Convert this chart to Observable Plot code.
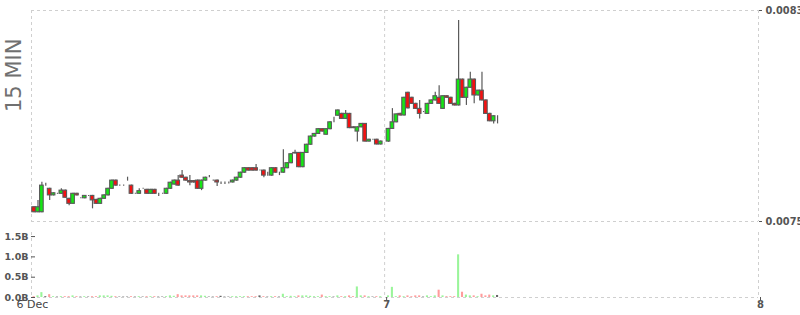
<!DOCTYPE html>
<html><head><meta charset="utf-8">
<script src="https://cdn.jsdelivr.net/npm/d3@7"></script>
<script src="https://cdn.jsdelivr.net/npm/@observablehq/plot@0.6"></script>
<style>
body{margin:0;background:#fff;}
#chart{position:relative;width:800px;height:315px;overflow:hidden;font-family:"DejaVu Sans",sans-serif;}
#chart svg{position:absolute;left:0;background:transparent;overflow:visible;}
</style></head><body><div id="chart"></div>
<script>
// ---- data (15-minute candles) ----
const firstCandle = "2023-12-06T01:30:00Z";
const stepMinutes = 15;
const open = [
.007554,.007535,.007535,.007636,.007624,.007599,.007605,.007605,.007617,.007586,
.007567,.007605,.007588,.007588,.007597,.007597,.007582,.007567,.007586,.007599,
.007624,.007655,.007636,.007636,.007655,.007636,.007605,.007605,.007624,.007620,
.007605,.007620,.007605,.007605,.007605,.007624,.007640,.007655,.007674,.007666,
.007653,.007653,.007655,.007624,.007655,.007668,.007655,.007655,.007648,.007648,
.007648,.007648,.007655,.007666,.007685,.007702,.007702,.007702,.007693,.007693,
.007674,.007674,.007702,.007685,.007685,.007702,.007721,.007758,.007760,.007706,
.007760,.007791,.007822,.007832,.007850,.007829,.007850,.007876,.007901,.007908,
.007889,.007908,.007857,.007841,.007857,.007870,.007803,.007810,.007810,.007792,
null,.007803,.007851,.007876,.007908,.007902,.007988,.007969,.007946,.007927,
.007915,.007908,.007946,.007959,.007969,.007927,.007975,.007969,.007946,.007940,
.008038,.007969,.008007,.008038,.007978,.007996,.007959,.007908,.007880,.007899];
const high = [
.007556,.007580,.007649,.007645,.007626,.007609,.007607,.007624,.007619,.007588,
.007607,.007607,.007590,.007599,.007599,.007599,.007584,.007588,.007601,.007626,
.007657,.007657,.007638,.007638,.007668,.007638,.007607,.007624,.007626,.007622,
.007622,.007622,.007607,.007607,.007626,.007649,.007657,.007674,.007693,.007668,
.007674,.007655,.007657,.007657,.007668,.007674,.007657,.007657,.007650,.007650,
.007650,.007657,.007668,.007687,.007704,.007704,.007704,.007716,.007695,.007695,
.007687,.007704,.007704,.007687,.007772,.007723,.007757,.007770,.007762,.007762,
.007793,.007824,.007834,.007852,.007852,.007852,.007878,.007895,.007923,.007910,
.007921,.007910,.007859,.007859,.007872,.007872,.007812,.007812,.007812,.007805,
null,.007853,.007928,.007908,.007910,.007971,.007990,.007971,.007948,.007959,
.007917,.007948,.007961,.007990,.008015,.007977,.007977,.007971,.007948,.008262,
.008040,.008009,.008066,.008040,.007998,.008066,.007961,.007910,.007901,.007901];
const low = [
.007533,.007533,.007533,.007634,.007580,.007597,.007603,.007603,.007588,.007560,
.007565,.007597,.007586,.007586,.007595,.007548,.007565,.007565,.007584,.007597,
.007622,.007634,.007634,.007634,.007653,.007603,.007603,.007603,.007622,.007603,
.007603,.007603,.007595,.007603,.007603,.007622,.007638,.007634,.007664,.007653,
.007636,.007645,.007622,.007617,.007653,.007666,.007653,.007633,.007640,.007640,
.007642,.007646,.007653,.007664,.007683,.007691,.007691,.007691,.007691,.007666,
.007672,.007672,.007683,.007674,.007683,.007700,.007719,.007756,.007704,.007704,
.007758,.007789,.007820,.007830,.007839,.007827,.007848,.007874,.007899,.007887,
.007887,.007852,.007852,.007801,.007855,.007801,.007801,.007808,.007790,.007790,
null,.007800,.007849,.007874,.007900,.007900,.007927,.007944,.007925,.007889,
.007913,.007906,.007944,.007957,.007944,.007925,.007967,.007944,.007938,.007938,
.007967,.007940,.008005,.007946,.007976,.007957,.007906,.007878,.007870,.007870];
const close = [
.007535,.007554,.007636,.007636,.007599,.007607,.007605,.007617,.007590,.007567,
.007605,.007599,.007588,.007597,.007597,.007580,.007567,.007586,.007599,.007624,
.007655,.007636,.007636,.007636,.007655,.007605,.007605,.007615,.007624,.007605,
.007620,.007605,.007605,.007605,.007624,.007647,.007655,.007636,.007666,.007655,
.007648,.007648,.007624,.007655,.007666,.007668,.007655,.007648,.007648,.007648,
.007648,.007655,.007666,.007685,.007702,.007693,.007693,.007693,.007693,.007674,
.007674,.007702,.007685,.007685,.007702,.007721,.007755,.007760,.007706,.007760,
.007791,.007822,.007832,.007850,.007841,.007850,.007876,.007876,.007921,.007889,
.007908,.007854,.007854,.007857,.007870,.007803,.007810,.007810,.007792,.007803,
null,.007851,.007876,.007906,.007902,.007969,.007929,.007946,.007927,.007908,
.007915,.007946,.007959,.007975,.007946,.007975,.007969,.007946,.007940,.008038,
.007969,.008007,.008038,.007978,.007996,.007959,.007908,.007880,.007899,.007899];
// volume in billions
const volume = [
0.02,0.04,0.12,0.02,0.07,0.02,0.01,0.02,0.02,0.02,
0.04,0.02,0.01,0.02,0.01,0.02,0.02,0.04,0.04,0.04,
0.03,0.02,0.01,0.01,0.01,0.02,0.01,0.02,0.01,0.02,
0.02,0.02,0.01,0.01,0.02,0.04,0.03,0.07,0.04,0.04,
0.04,0.04,0.04,0.04,0.03,0.01,0.01,0.02,0.03,0.01,
0.01,0.02,0.02,0.02,0.02,0.02,0.02,0.02,0.04,0.02,
0.01,0.02,0.02,0.01,0.08,0.02,0.03,0.02,0.04,0.04,
0.04,0.03,0.02,0.02,0.06,0.02,0.02,0.01,0.04,0.02,
0.02,0.04,0.02,0.26,0.04,0.04,0.02,0.01,0.02,0.02,
null,0.04,0.25,0.02,0.04,0.02,0.04,0.02,0.04,0.04,
0.01,0.04,0.02,0.04,0.18,0.04,0.02,0.02,0.02,1.05,
0.13,0.06,0.04,0.04,0.02,0.08,0.04,0.06,0.04,0.05];
const priceTicks = [0.0075, 0.0083];
const volumeTicks = [0, 0.5, 1.0, 1.5];
const xDomain = ["2023-12-06T01:20:00Z", "2023-12-08T00:00:00Z"];
const dayTicks = ["2023-12-07T00:00:00Z", "2023-12-08T00:00:00Z"];
const dayLabels = ["7", "8"];
const firstLabel = "6 Dec";
const panelTitle = "15 MIN";

// ---- build ----
const t0 = new Date(firstCandle);
const candles = open.map((o, i) => ({
  time: new Date(+t0 + i * stepMinutes * 60000),
  open: o, high: high[i], low: low[i], close: close[i], volume: volume[i]
})).filter(d => d.open != null);
const dom = xDomain.map(s => new Date(s));
const ticks = dayTicks.map(s => new Date(s));
const half = 7 * 60000, vhalf = 4 * 60000;
const GREEN = "#14e614", RED = "#f51010", EDGE = "#5a5a5a";
const grid = {stroke: "#cfcfcf", strokeDasharray: "3,3", strokeWidth: 1};
const font = "DejaVu Sans, sans-serif";

const price = Plot.plot({
  width: 800, height: 232,
  marginTop: 10, marginBottom: 11, marginLeft: 31, marginRight: 42,
  style: {fontFamily: font, color: "#555", background: "transparent"},
  x: {type: "utc", domain: dom, axis: null},
  y: {domain: [priceTicks[0], priceTicks[priceTicks.length - 1]], axis: null},
  marks: [
    Plot.ruleY(priceTicks, grid),
    Plot.ruleX([dom[0], ...ticks], grid),
    Plot.ruleX(candles, {x: "time", y1: "low", y2: "high", stroke: EDGE, strokeWidth: 1.2}),
    Plot.rect(candles, {
      x1: d => new Date(+d.time - half), x2: d => new Date(+d.time + half),
      y1: "open", y2: "close",
      fill: d => d.close > d.open ? GREEN : d.close < d.open ? RED : "none",
      stroke: EDGE, strokeWidth: 1.1
    }),
    Plot.axisY(priceTicks, {anchor: "right", label: null, tickFormat: d => d.toFixed(4), tickSize: 3, tickPadding: 4,
      fontSize: 9.8, fontWeight: "bold"}),
    Plot.text([panelTitle], {frameAnchor: "left", dx: -17, dy: -4, rotate: -90, fontSize: 21, fill: "#707070", fontWeight: "normal"})
  ]
});

const vol = Plot.plot({
  width: 800, height: 93,
  marginTop: 10, marginBottom: 18, marginLeft: 31, marginRight: 42,
  style: {fontFamily: font, color: "#555", background: "transparent"},
  x: {type: "utc", domain: dom, axis: null},
  y: {domain: [0, 1.6], axis: null},
  marks: [
    Plot.ruleX([dom[0], ...ticks], grid),
    Plot.ruleY([0], grid),
    Plot.rect(candles, {
      x1: d => new Date(+d.time - vhalf), x2: d => new Date(+d.time + vhalf),
      y1: 0, y2: "volume",
      fill: d => d.close > d.open ? "#9af59a" : d.close < d.open ? "#ff9c9c" : "#666"
    }),
    Plot.axisY(volumeTicks, {anchor: "left", label: null, tickFormat: d => d.toFixed(1) + "B", tickSize: 4, tickPadding: 3, dx: 4,
      fontSize: 9.5, fontWeight: "bold"}),
    Plot.axisX(ticks, {anchor: "bottom", label: null, tickFormat: (d, i) => dayLabels[i], tickSize: 3, tickPadding: 0, dx: 2,
      fontSize: 10, fontWeight: "bold"}),
    Plot.axisX([dom[0]], {anchor: "bottom", label: null, tickFormat: () => firstLabel, tickSize: 0, tickPadding: 3, dx: 1,
      fontSize: 11, fill: "#444"})
  ]
});

const host = document.getElementById("chart");
price.style.top = "0px";
vol.style.top = "222px";
host.appendChild(price);
host.appendChild(vol);
</script></body></html>
